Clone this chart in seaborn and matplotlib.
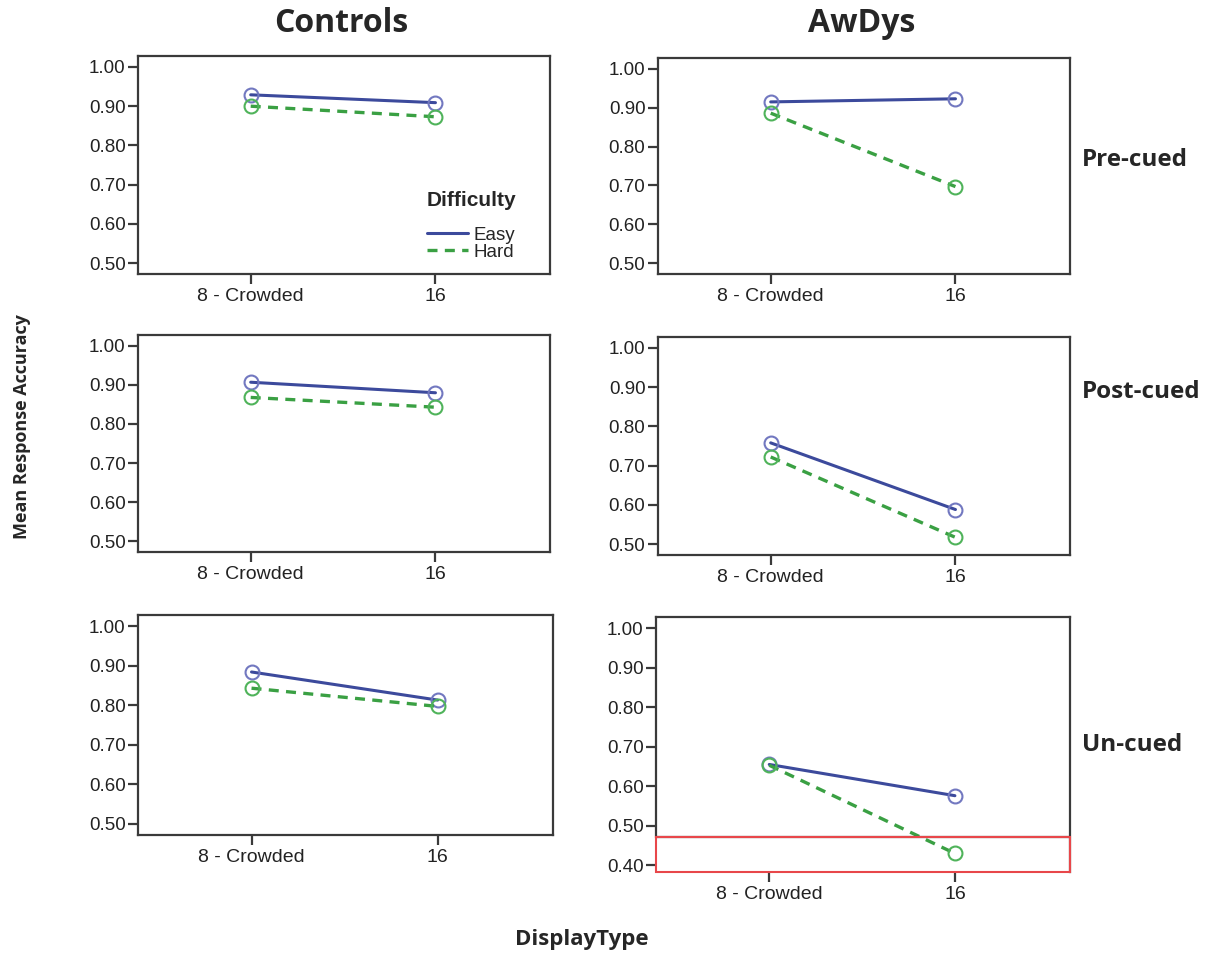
import matplotlib
matplotlib.use("Agg")
import matplotlib.pyplot as plt
import matplotlib.patches as mpatches
from matplotlib.lines import Line2D
import seaborn as sns
import pandas as pd


# data
display_types = ["8 - Crowded", "16"]
difficulties = ["Easy", "Hard"]
groups = ["Controls", "AwDys"]
cue_conditions = ["Pre-cued", "Post-cued", "Un-cued"]

controls_pre_easy = [0.929, 0.909]
controls_pre_hard = [0.900, 0.873]
awdys_pre_easy = [0.915, 0.923]
awdys_pre_hard = [0.886, 0.697]

controls_post_easy = [0.907, 0.880]
controls_post_hard = [0.868, 0.843]
awdys_post_easy = [0.758, 0.588]
awdys_post_hard = [0.722, 0.517]

controls_un_easy = [0.884, 0.813]
controls_un_hard = [0.843, 0.797]
awdys_un_easy = [0.655, 0.576]
awdys_un_hard = [0.653, 0.430]

panel_values = {
    ("Controls", "Pre-cued"): (controls_pre_easy, controls_pre_hard),
    ("AwDys", "Pre-cued"): (awdys_pre_easy, awdys_pre_hard),
    ("Controls", "Post-cued"): (controls_post_easy, controls_post_hard),
    ("AwDys", "Post-cued"): (awdys_post_easy, awdys_post_hard),
    ("Controls", "Un-cued"): (controls_un_easy, controls_un_hard),
    ("AwDys", "Un-cued"): (awdys_un_easy, awdys_un_hard),
}

yticks = [0.50, 0.60, 0.70, 0.80, 0.90, 1.00]
yticks_extended = [0.40] + yticks

EASY_COLOR = "#3c4a9c"
EASY_MARKER = "#7278c0"
HARD_COLOR = "#3aa043"
HARD_MARKER = "#4fb35a"
SPINE = "#3a3a3a"
HARD_DASH = (0, (3, 2.2))

sns.set_style("white")
plt.rcParams["font.family"] = ["Liberation Sans", "DejaVu Sans"]

fig = plt.figure(figsize=(12.14, 9.56), dpi=100)
W, H = 1214, 956

# panel boxes in pixels: left, right, top, bottom
boxes = {
    ("Controls", "Pre-cued"): (138, 550, 56, 274),
    ("AwDys", "Pre-cued"): (658, 1070, 58, 274),
    ("Controls", "Post-cued"): (138, 550, 335, 552),
    ("AwDys", "Post-cued"): (658, 1070, 337, 555),
    ("Controls", "Un-cued"): (138, 553, 615, 835),
    ("AwDys", "Un-cued"): (656, 1070, 617, 872),
}

for (grp, cue), (l, r, t, b) in boxes.items():
    ax = fig.add_axes([l / W, (H - b) / H, (r - l) / W, (b - t) / H])
    easy, hard = panel_values[(grp, cue)]
    df = pd.DataFrame({
        "DisplayType": display_types * 2,
        "Accuracy": easy + hard,
        "Difficulty": ["Easy"] * 2 + ["Hard"] * 2,
    })
    sns.lineplot(data=df[df.Difficulty == "Easy"], x="DisplayType", y="Accuracy",
                 color=EASY_COLOR, lw=2.2, marker="o", markersize=10,
                 markerfacecolor="none", markeredgecolor=EASY_MARKER,
                 markeredgewidth=1.5, ax=ax, sort=False)
    sns.lineplot(data=df[df.Difficulty == "Hard"], x="DisplayType", y="Accuracy",
                 color=HARD_COLOR, lw=2.4, linestyle=HARD_DASH, marker="o",
                 markersize=10, markerfacecolor="none",
                 markeredgecolor=HARD_MARKER, markeredgewidth=1.5, ax=ax,
                 sort=False)

    ax.set_xlim(-0.61, 1.62)
    ax.set_xlabel("")
    ax.set_ylabel("")
    ax.tick_params(axis="both", direction="out", length=7, width=1.6,
                   color=SPINE, labelsize=13.5, labelcolor="#222222",
                   bottom=True, left=True, pad=2)
    ax.tick_params(axis="x", labelsize=14, pad=3)
    for s in ax.spines.values():
        s.set_color(SPINE)
        s.set_linewidth(1.6)

    if grp == "AwDys" and cue == "Un-cued":
        lo, hi = 0.383, 1.028
        ax.set_ylim(lo, hi)
        ax.set_yticks(yticks_extended)
        ax.set_yticklabels([f"{v:.2f}" for v in yticks_extended])
        ax.spines["bottom"].set_visible(False)
        ax.spines["left"].set_bounds(0.472, hi)
        ax.axhline(0.472, color=SPINE, lw=1.6)
        frac = (0.472 - lo) / (hi - lo)
        ax.add_patch(mpatches.Rectangle((0, 0), 1, frac, transform=ax.transAxes,
                                        fill=False, edgecolor="#e8474a",
                                        lw=1.5, clip_on=False, zorder=5))
    else:
        ax.set_ylim(0.472, 1.028)
        ax.set_yticks(yticks)
        ax.set_yticklabels([f"{v:.2f}" for v in yticks])

    if grp == "Controls" and cue == "Pre-cued":
        handles = [
            Line2D([], [], color=EASY_COLOR, lw=2.2),
            Line2D([], [], color=HARD_COLOR, lw=2.4, linestyle=HARD_DASH),
        ]
        leg = ax.legend(handles, difficulties, title="Difficulty", frameon=False,
                        loc="lower right", bbox_to_anchor=(0.95, 0.0),
                        fontsize=13.5, handlelength=2.2, handletextpad=0.3,
                        labelspacing=0.0, borderaxespad=0.3)
        leg.get_title().set_fontweight("bold")
        leg.get_title().set_fontsize(15)
        leg._legend_box.align = "left"
        leg._legend_box.sep = 12

title_font = ["Open Sans", "DejaVu Sans"]
fig.text(341 / W, 1 - 24 / H, "Controls", ha="center", va="center",
         fontsize=23, fontweight="bold", family=title_font)
fig.text(862 / W, 1 - 24 / H, "AwDys", ha="center", va="center",
         fontsize=23, fontweight="bold", family=title_font)
for cue, y in zip(cue_conditions, [160, 392, 745]):
    fig.text(1082 / W, 1 - y / H, cue, ha="left", va="center", fontsize=17.5,
             fontweight="bold", family=title_font)
fig.text(22 / W, 1 - 427 / H, "Mean Response Accuracy", ha="center",
         va="center", rotation=90, fontsize=13, fontweight="bold",
         family=title_font)
fig.text(582 / W, 1 - 940 / H, "DisplayType", ha="center", va="center",
         fontsize=16, fontweight="bold", family=title_font)

fig.savefig("out.png", dpi=100, facecolor="white")
